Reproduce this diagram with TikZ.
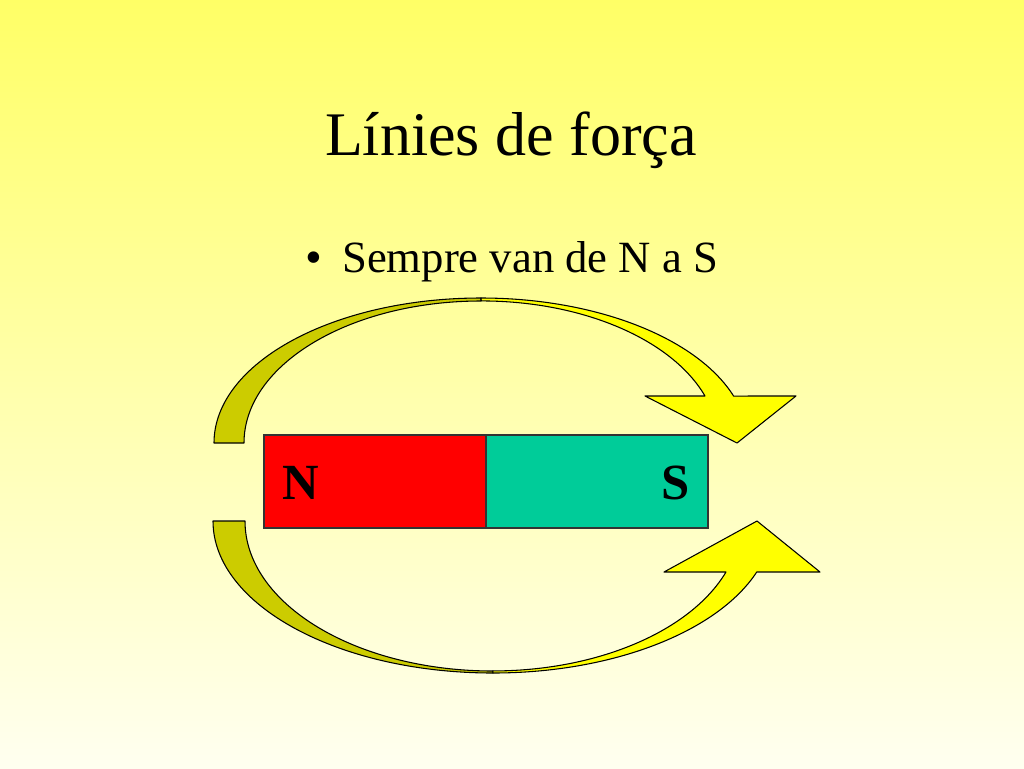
\documentclass[tikz,border=0pt]{standalone}
\usepackage{fontspec}
\setmainfont{Liberation Serif}
\definecolor{bgtop}{RGB}{255,255,102}
\definecolor{bgbot}{RGB}{255,255,240}
\definecolor{darkyel}{RGB}{204,204,0}
\definecolor{brightyel}{RGB}{255,255,0}
\definecolor{magred}{RGB}{255,0,0}
\definecolor{magteal}{RGB}{0,204,153}
\begin{document}
\begin{tikzpicture}[x=0.75pt,y=-0.75pt,
  band/.style={draw=black,line width=0.8pt,line join=round},
  halfbox/.style={draw=black!80,line width=0.8pt,minimum width=222*0.75pt,minimum height=93*0.75pt,inner sep=0pt,outer sep=0pt},
  poletext/.style={font=\fontsize{38}{40}\selectfont\bfseries,inner sep=0pt,anchor=base west},
]
% background
\shade[top color=bgtop,bottom color=bgbot] (0,0) rectangle (1024,768);
\useasboundingbox (0,0) rectangle (1024,768);

% title and bullet
\node[font=\fontsize{46.5}{50}\selectfont,anchor=base,inner sep=0pt] (title) at (511,155) {Línies de força};
\node[font=\fontsize{36}{38}\selectfont,anchor=base west,inner sep=0pt] (bullet) at (305,273) {•};
\node[font=\fontsize{33.5}{36}\selectfont,anchor=base west,inner sep=0pt] (bullettext) at (342,272) {Sempre van de N a S};

% upper curved arrow (centre 481,443)
\fill[darkyel,band] (214,443) arc[start angle=180,end angle=270,x radius=267,y radius=145]
  -- (481,301) arc[start angle=270,end angle=180,x radius=237,y radius=142] -- cycle;
\fill[brightyel,band] (481,298) arc[start angle=270,end angle=341.1,x radius=267,y radius=145]
  -- (796,396) -- (737,443) -- (645,396) -- (705,396)
  arc[start angle=340.7,end angle=270,x radius=237,y radius=142] -- cycle;

% lower curved arrow (centre 493,521)
\fill[darkyel,band] (213,521) arc[start angle=180,end angle=90,x radius=280,y radius=152]
  -- (493,671) arc[start angle=90,end angle=180,x radius=248,y radius=150] -- cycle;
\fill[brightyel,band] (493,673) arc[start angle=90,end angle=19.6,x radius=280,y radius=152]
  -- (820,572) -- (757,521) -- (664,572) -- (726,572)
  arc[start angle=19.9,end angle=90,x radius=248,y radius=150] -- cycle;

% magnet
\node[halfbox,fill=magred,anchor=north west] (north) at (264,435) {};
\node[halfbox,fill=magteal,anchor=north west] (south) at (486,435) {};
\node[poletext] (nlabel) at (282,499) {N};
\node[poletext] (slabel) at (661,499) {S};
\end{tikzpicture}
\end{document}
